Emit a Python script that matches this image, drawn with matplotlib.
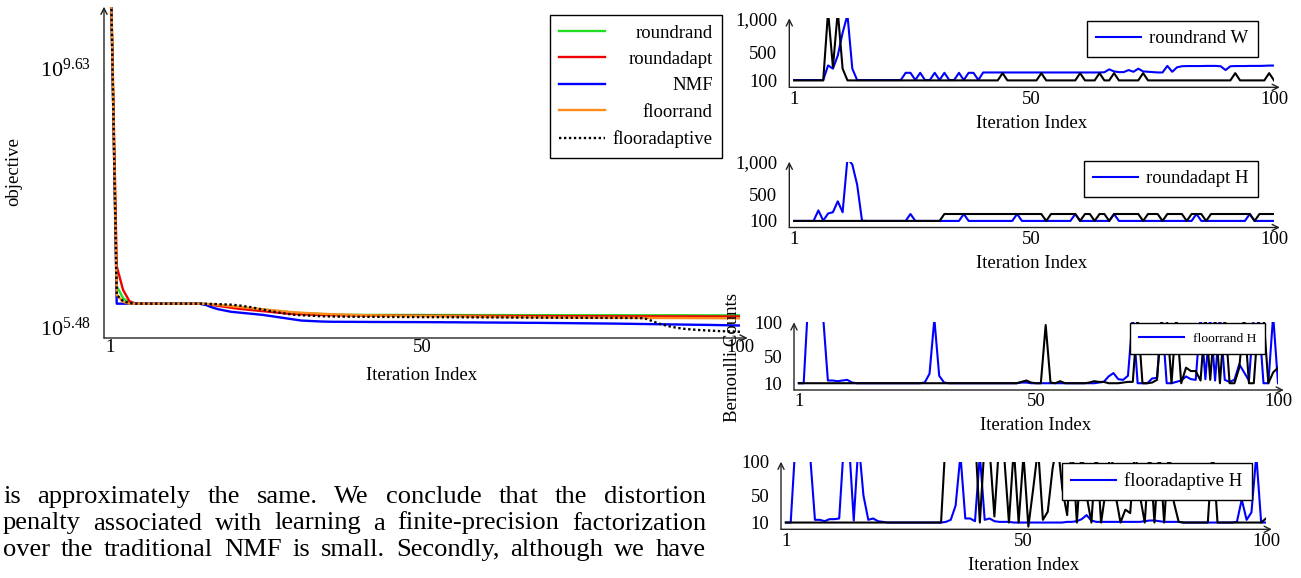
import matplotlib
matplotlib.use("Agg")
import matplotlib.pyplot as plt
import numpy as np
from matplotlib.ticker import NullLocator

W, H = 1301, 578
plt.rcParams['font.family'] = ['Liberation Serif', 'DejaVu Serif']
plt.rcParams['mathtext.fontset'] = 'custom'
plt.rcParams['mathtext.rm'] = 'Liberation Serif'

iters = np.arange(1, 101)

# objective, stored as log10 of the value
roundrand_obj = [
    11.5, 6.13, 5.94, 5.86, 5.85, 5.85, 5.85, 5.85, 5.85, 5.85,
    5.85, 5.85, 5.85, 5.85, 5.85, 5.845, 5.835, 5.825, 5.815, 5.805,
    5.795, 5.785, 5.775, 5.765, 5.755, 5.745, 5.735, 5.725, 5.715, 5.705,
    5.70, 5.695, 5.69, 5.685, 5.68, 5.677, 5.675, 5.673, 5.672, 5.671,
    5.67, 5.67, 5.67, 5.67, 5.67, 5.669, 5.669, 5.669, 5.669, 5.669,
    5.668, 5.668, 5.668, 5.668, 5.668, 5.668, 5.667, 5.667, 5.667, 5.667,
    5.667, 5.667, 5.667, 5.666, 5.666, 5.666, 5.666, 5.666, 5.666, 5.666,
    5.666, 5.665, 5.665, 5.665, 5.665, 5.665, 5.665, 5.665, 5.665, 5.665,
    5.665, 5.664, 5.664, 5.664, 5.664, 5.664, 5.664, 5.664, 5.664, 5.664,
    5.664, 5.664, 5.663, 5.663, 5.663, 5.663, 5.663, 5.663, 5.663, 5.663]
roundadapt_obj = [
    11.5, 6.45, 6.07, 5.89, 5.85, 5.85, 5.85, 5.85, 5.85, 5.85,
    5.85, 5.85, 5.85, 5.85, 5.85, 5.84, 5.83, 5.815, 5.80, 5.785,
    5.77, 5.76, 5.75, 5.74, 5.73, 5.72, 5.71, 5.70, 5.69, 5.685,
    5.68, 5.676, 5.672, 5.669, 5.667, 5.665, 5.664, 5.663, 5.662, 5.661,
    5.66, 5.66, 5.66, 5.659, 5.659, 5.659, 5.658, 5.658, 5.658, 5.657,
    5.657, 5.657, 5.656, 5.656, 5.656, 5.655, 5.655, 5.655, 5.654, 5.654,
    5.654, 5.653, 5.653, 5.653, 5.652, 5.652, 5.652, 5.651, 5.651, 5.651,
    5.65, 5.65, 5.65, 5.65, 5.649, 5.649, 5.649, 5.649, 5.648, 5.648,
    5.648, 5.648, 5.648, 5.647, 5.647, 5.647, 5.647, 5.647, 5.646, 5.646,
    5.646, 5.646, 5.646, 5.646, 5.645, 5.645, 5.645, 5.645, 5.645, 5.645]
nmf_obj = [
    11.5, 5.85, 5.85, 5.85, 5.85, 5.85, 5.85, 5.85, 5.85, 5.85,
    5.85, 5.85, 5.85, 5.85, 5.85, 5.83, 5.79, 5.76, 5.74, 5.72,
    5.71, 5.70, 5.69, 5.68, 5.67, 5.655, 5.64, 5.625, 5.61, 5.595,
    5.58, 5.575, 5.57, 5.565, 5.562, 5.56, 5.56, 5.559, 5.559, 5.558,
    5.558, 5.557, 5.557, 5.556, 5.556, 5.556, 5.555, 5.555, 5.555, 5.554,
    5.554, 5.553, 5.553, 5.552, 5.552, 5.551, 5.55, 5.55, 5.549, 5.548,
    5.548, 5.547, 5.546, 5.546, 5.545, 5.544, 5.543, 5.543, 5.542, 5.541,
    5.54, 5.539, 5.538, 5.537, 5.536, 5.535, 5.534, 5.533, 5.532, 5.531,
    5.53, 5.528, 5.527, 5.525, 5.524, 5.522, 5.521, 5.52, 5.518, 5.517,
    5.515, 5.514, 5.512, 5.511, 5.51, 5.508, 5.506, 5.504, 5.502, 5.50]
floorrand_obj = [
    11.5, 5.99, 5.88, 5.85, 5.85, 5.85, 5.85, 5.85, 5.85, 5.85,
    5.85, 5.85, 5.85, 5.85, 5.85, 5.848, 5.84, 5.83, 5.82, 5.81,
    5.80, 5.79, 5.78, 5.77, 5.76, 5.75, 5.74, 5.73, 5.72, 5.71,
    5.705, 5.70, 5.695, 5.69, 5.685, 5.68, 5.677, 5.674, 5.671, 5.668,
    5.665, 5.663, 5.661, 5.659, 5.657, 5.655, 5.653, 5.652, 5.651, 5.65,
    5.649, 5.648, 5.647, 5.646, 5.645, 5.644, 5.643, 5.642, 5.641, 5.64,
    5.639, 5.638, 5.637, 5.636, 5.635, 5.634, 5.633, 5.632, 5.631, 5.63,
    5.63, 5.629, 5.628, 5.628, 5.627, 5.627, 5.626, 5.626, 5.625, 5.625,
    5.624, 5.624, 5.623, 5.623, 5.622, 5.622, 5.621, 5.621, 5.62, 5.62,
    5.62, 5.619, 5.619, 5.618, 5.618, 5.618, 5.617, 5.617, 5.616, 5.616]
flooradaptive_obj = [
    11.5, 5.99, 5.89, 5.86, 5.85, 5.85, 5.85, 5.85, 5.85, 5.85,
    5.85, 5.85, 5.85, 5.85, 5.85, 5.848, 5.845, 5.842, 5.838, 5.834,
    5.825, 5.81, 5.795, 5.775, 5.755, 5.735, 5.715, 5.70, 5.685, 5.672,
    5.665, 5.66, 5.655, 5.65, 5.647, 5.645, 5.643, 5.642, 5.641, 5.64,
    5.64, 5.639, 5.639, 5.638, 5.638, 5.637, 5.637, 5.636, 5.636, 5.635,
    5.635, 5.634, 5.634, 5.633, 5.633, 5.632, 5.632, 5.631, 5.631, 5.63,
    5.63, 5.63, 5.629, 5.629, 5.628, 5.628, 5.627, 5.627, 5.626, 5.626,
    5.626, 5.625, 5.625, 5.624, 5.624, 5.623, 5.623, 5.623, 5.622, 5.622,
    5.622, 5.621, 5.621, 5.62, 5.615, 5.58, 5.54, 5.51, 5.485, 5.465,
    5.45, 5.44, 5.432, 5.425, 5.42, 5.415, 5.41, 5.407, 5.404, 5.40]

# Bernoulli counts (blue = labelled series, black = companion series)
rrW_blue = [
    105, 105, 105, 105, 105, 105, 105, 317, 270, 460,
    790, 1050, 270, 104, 105, 105, 105, 105, 105, 105,
    105, 105, 105, 210, 210, 105, 210, 105, 105, 210,
    105, 210, 105, 105, 210, 105, 210, 210, 105, 215,
    215, 215, 215, 215, 215, 215, 215, 215, 215, 215,
    215, 215, 215, 215, 215, 215, 215, 215, 215, 215,
    215, 215, 215, 215, 218, 260, 230, 220, 220, 250,
    225, 270, 230, 225, 220, 215, 215, 310, 225, 290,
    305, 308, 308, 308, 308, 310, 310, 310, 305, 250,
    305, 308, 308, 308, 310, 310, 310, 312, 315, 315]
rrW_black = [
    100, 100, 100, 100, 100, 100, 100, 1100, 290, 1100,
    270, 100, 100, 100, 100, 100, 100, 100, 100, 100,
    100, 100, 100, 100, 100, 100, 100, 100, 100, 100,
    100, 100, 100, 100, 100, 100, 100, 100, 100, 100,
    100, 100, 100, 205, 100, 100, 100, 100, 100, 100,
    100, 205, 100, 100, 100, 100, 100, 100, 100, 205,
    100, 100, 100, 205, 100, 100, 205, 100, 100, 100,
    100, 100, 205, 100, 100, 100, 100, 100, 100, 100,
    100, 100, 100, 100, 100, 100, 100, 100, 100, 100,
    100, 205, 100, 100, 100, 100, 100, 100, 205, 100]
raH_blue = [
    100, 100, 100, 100, 100, 260, 104, 213, 232, 398,
    232, 1050, 957, 650, 104, 100, 100, 100, 100, 100,
    100, 100, 100, 100, 205, 100, 100, 100, 100, 100,
    100, 100, 100, 100, 100, 205, 100, 100, 100, 100,
    100, 100, 100, 100, 100, 100, 205, 100, 100, 100,
    100, 100, 100, 100, 100, 100, 100, 100, 205, 100,
    100, 100, 100, 100, 100, 100, 205, 100, 100, 100,
    100, 100, 100, 100, 100, 100, 100, 100, 100, 100,
    100, 100, 100, 205, 100, 100, 100, 100, 100, 100,
    100, 100, 100, 100, 205, 100, 100, 100, 100, 100]
raH_black = [
    100, 100, 100, 100, 100, 100, 100, 100, 100, 100,
    100, 100, 100, 100, 100, 100, 100, 100, 100, 100,
    100, 100, 100, 100, 100, 100, 100, 100, 100, 100,
    100, 205, 205, 205, 205, 205, 205, 205, 205, 205,
    205, 205, 205, 205, 205, 205, 205, 205, 205, 205,
    205, 205, 100, 205, 205, 205, 205, 205, 205, 100,
    205, 205, 100, 205, 205, 100, 205, 205, 205, 205,
    205, 205, 100, 205, 205, 205, 100, 205, 205, 205,
    205, 100, 205, 205, 205, 100, 205, 205, 205, 205,
    205, 205, 205, 205, 205, 100, 205, 205, 205, 205]
frH_blue = [
    10, 10, 140, 140, 140, 110, 14, 14, 13, 14,
    15, 11, 10, 10, 10, 10, 10, 10, 10, 10,
    10, 10, 10, 10, 10, 10, 11, 24, 105, 21,
    11, 10, 10, 10, 10, 10, 10, 10, 10, 10,
    10, 10, 10, 10, 10, 10, 11, 11, 10, 10,
    10, 10, 10, 10, 10, 10, 10, 10, 10, 10,
    10, 10, 11, 12, 20, 25, 16, 15, 21, 110,
    10, 10, 10, 17, 18, 110, 10, 10, 12, 14,
    20, 16, 15, 110, 16, 110, 14, 110, 15, 12,
    15, 38, 26, 14, 110, 110, 10, 10, 110, 10]
frH_black = [
    10, 10, 10, 10, 10, 10, 10, 10, 10, 10,
    10, 10, 10, 10, 10, 10, 10, 10, 10, 10,
    10, 10, 10, 10, 10, 10, 10, 10, 10, 10,
    10, 10, 10, 10, 10, 10, 10, 10, 10, 10,
    10, 10, 10, 10, 10, 10, 12, 14, 11, 10,
    10, 96, 11, 10, 13, 10, 10, 10, 10, 10,
    11, 13, 12, 12, 10, 10, 10, 11, 12, 12,
    110, 10, 10, 11, 15, 110, 110, 10, 110, 10,
    33, 28, 28, 14, 110, 15, 110, 10, 110, 10,
    10, 33, 110, 10, 10, 110, 110, 10, 26, 33]
faH_blue = [
    10, 10, 130, 130, 130, 110, 14, 14, 12, 15,
    15, 16, 130, 130, 13, 130, 50, 14, 16, 12,
    11, 10, 10, 10, 10, 10, 10, 10, 10, 10,
    10, 10, 10, 11, 14, 35, 110, 16, 16, 12,
    110, 14, 16, 12, 11, 11, 11, 10, 10, 10,
    10, 10, 10, 10, 10, 10, 10, 10, 11, 11,
    12, 15, 21, 13, 11, 11, 11, 11, 11, 11,
    11, 11, 11, 11, 12, 13, 13, 12, 11, 11,
    11, 11, 10, 10, 10, 10, 10, 10, 10, 10,
    10, 10, 10, 11, 44, 14, 25, 110, 10, 10]
faH_black = [
    10, 10, 10, 10, 10, 10, 10, 10, 10, 10,
    10, 10, 10, 10, 10, 10, 10, 10, 10, 10,
    10, 10, 10, 10, 10, 10, 10, 10, 10, 10,
    10, 10, 10, 140, 140, 140, 140, 140, 140, 140,
    10, 130, 120, 19, 130, 110, 10, 120, 10, 110,
    4, 60, 120, 14, 26, 90, 130, 60, 21, 130,
    10, 120, 50, 10, 120, 10, 60, 120, 50, 10,
    29, 24, 120, 50, 10, 120, 10, 120, 10, 120,
    40, 11, 10, 10, 10, 10, 10, 10, 120, 10,
    10, 10, 10, 10, 10, 10, 10, 10, 10, 16]

body_lines = [
    "is approximately the same. We conclude that the distortion",
    "penalty associated with learning a finite-precision factorization",
    "over the traditional NMF is small. Secondly, although we have",
]

FS = 13.5
fig = plt.figure(figsize=(W / 100, H / 100), dpi=100)


def axes_px(l, t, r, b):
    return fig.add_axes([l / W, 1 - b / H, (r - l) / W, (b - t) / H])


def ftext(x, y, s, **kw):
    return fig.text(x / W, 1 - y / H, s, **kw)


def arrow_axes(ax):
    for s in ax.spines.values():
        s.set_visible(False)
    kw = dict(arrowstyle='->', lw=1.0, color='#222222', shrinkA=0, shrinkB=0,
              mutation_scale=11)
    ax.annotate('', xy=(1.012, 0), xytext=(0, 0), xycoords='axes fraction',
                arrowprops=kw, annotation_clip=False)
    ax.annotate('', xy=(0, 1.0), xytext=(0, 0), xycoords='axes fraction',
                arrowprops=kw, annotation_clip=False)


# ---- main objective chart
ax = axes_px(104, 6.7, 740, 338)
ax.set_yscale('log')
ax.set_xlim(0, 100)
ax.set_ylim(10 ** 5.30, 10 ** 10.61)
series = [(roundrand_obj, '#22dd22', '-', 'roundrand'),
          (roundadapt_obj, '#ee0000', '-', 'roundadapt'),
          (nmf_obj, '#0000ff', '-', 'NMF'),
          (floorrand_obj, '#ff8c1a', '-', 'floorrand'),
          (flooradaptive_obj, 'black', (0, (1, 1.1)), 'flooradaptive')]
for vals, c, ls, lab in series:
    ax.plot(iters, 10 ** np.array(vals), color=c, ls=ls, lw=1.7, label=lab)
ax.set_xticks([1, 50, 100], labels=['1', '50', '100'])
ax.set_yticks([10 ** 5.48, 10 ** 9.63],
              labels=[r'$\mathregular{10^{5.48}}$', r'$\mathregular{10^{9.63}}$'])
ax.yaxis.set_minor_locator(NullLocator())
ax.tick_params(axis='x', length=0, labelsize=FS, pad=1)
ax.tick_params(axis='y', length=0, labelsize=16, pad=9)
arrow_axes(ax)
ftext(422, 375, 'Iteration Index', fontsize=FS, ha='center', va='center')
ftext(14, 172, 'objective', fontsize=FS, ha='center', va='center', rotation=90)

leg = ax.legend(loc='upper left', bbox_to_anchor=(550 / W, 1 - 15 / H),
                bbox_transform=fig.transFigure, borderaxespad=0, fontsize=FS,
                frameon=True, fancybox=False, framealpha=1, edgecolor='black',
                borderpad=0.5, labelspacing=0.5, handlelength=2.45,
                handletextpad=0.4)
leg.get_frame().set_linewidth(1.0)

# ---- Bernoulli count panels
panels = [
    ((789.3, 18.3, 1274, 87.3), rrW_blue, rrW_black, 'roundrand W', 1000,
     [100, 500, 1000], ['100', '500', '1,000'], (1087, 20.7), FS, 0.5, 0.4),
    ((789.3, 161.7, 1274, 227.5), raH_blue, raH_black, 'roundadapt H', 1000,
     [100, 500, 1000], ['100', '500', '1,000'], (1084, 160.7), FS, 0.5, 0.4),
    ((794, 322.3, 1278, 390), frH_blue, frH_black, 'floorrand H', 100,
     [10, 50, 100], ['10', '50', '100'], (1130, 323), 9.7, 0.7, 0.6),
    ((781, 461.7, 1266, 529.3), faH_blue, faH_black, 'flooradaptive H', 100,
     [10, 50, 100], ['10', '50', '100'], (1062, 463), FS, 0.5, 0.4),
]
for rect, blue, black, lab, ymax, yt, ytl, lpos, lfs, bpad, tpad in panels:
    a = axes_px(*rect)
    a.set_xlim(0, 100)
    a.set_ylim(0, ymax)
    a.plot(iters, blue, color='#0000ff', lw=1.5, label=lab)
    a.plot(iters, black, color='black', lw=1.5)
    a.set_xticks([1, 50, 100], labels=['1', '50', '100'])
    a.set_yticks(yt, labels=ytl)
    a.tick_params(axis='x', length=0, labelsize=FS, pad=2.5)
    a.tick_params(axis='y', length=0, labelsize=FS, pad=8.5)
    arrow_axes(a)
    cx = (rect[0] + rect[2]) / 2
    ftext(cx, rect[3] + 36, 'Iteration Index', fontsize=FS, ha='center', va='center')
    lg = a.legend(loc='upper left', bbox_to_anchor=(lpos[0] / W, 1 - lpos[1] / H),
                  bbox_transform=fig.transFigure, borderaxespad=0, fontsize=lfs,
                  frameon=True, fancybox=False, framealpha=1, edgecolor='black',
                  borderpad=bpad, handlelength=45 / (lfs * 100 / 72),
                  handletextpad=tpad)
    lg.get_frame().set_linewidth(1.0)

ftext(732, 357, 'Bernoulli Counts', fontsize=FS, ha='center', va='center', rotation=90)

# ---- right-align the main legend labels, handles stay on the left
fig.canvas.draw()
rend = fig.canvas.get_renderer()
texts = leg.get_texts()
widths = [t.get_window_extent(rend).width for t in texts]
col = leg._legend_handle_box.get_children()[0]
for box, w in zip(col.get_children(), widths):
    box.sep = leg.handletextpad * FS + (max(widths) - w) * 72 / fig.dpi

# ---- justified body text
x0, x1 = 3, 706
bfs = 16
probe = [ftext(0, 0, w, fontsize=bfs) for w in body_lines[1].split()]
fig.canvas.draw()
nat = sum(t.get_window_extent(rend).width for t in probe)
space = ftext(0, 0, 'a a', fontsize=bfs).get_window_extent(rend).width - \
    2 * ftext(0, 0, 'a', fontsize=bfs).get_window_extent(rend).width
for t in fig.texts[-(len(probe) + 2):]:
    t.remove()
# the scanned text is wider than it is tall, so stay a bit under full width
bfs = 0.95 * bfs * (x1 - x0) / (nat + space * (len(probe) - 1))

for line, base in zip(body_lines, [503, 529.5, 556]):
    words = line.split()
    ts = [ftext(0, base, w, fontsize=bfs, va='baseline') for w in words]
    fig.canvas.draw()
    ws = [t.get_window_extent(rend).width for t in ts]
    gap = (x1 - x0 - sum(ws)) / (len(words) - 1)
    x = x0
    for t, w in zip(ts, ws):
        t.set_position((x / W, 1 - base / H))
        x += w + gap

fig.savefig('out.png', dpi=100)
